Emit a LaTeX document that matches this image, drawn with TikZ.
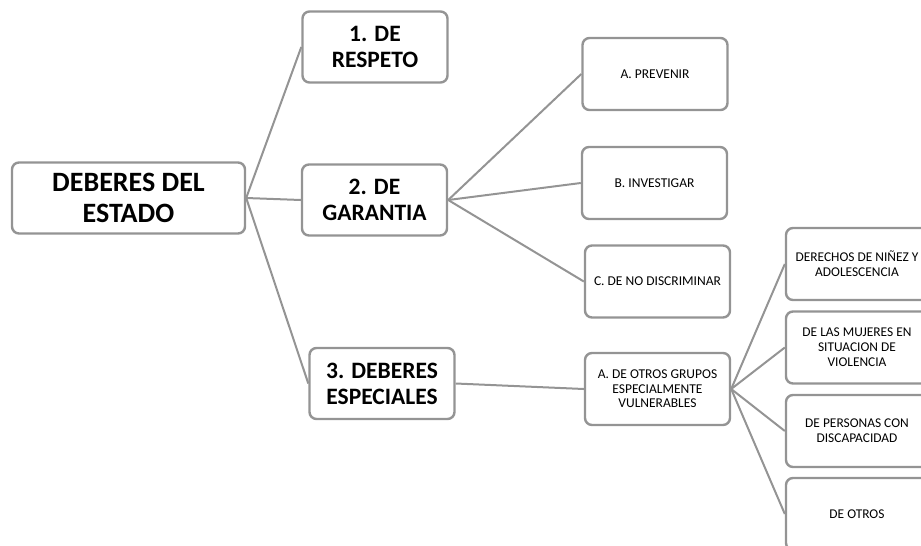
\documentclass[tikz,border=0pt]{standalone}
\usepackage{fontspec}
\setmainfont{Carlito}
\usetikzlibrary{positioning}
\definecolor{boxgray}{RGB}{148,148,148}
\tikzset{
    box/.style = {draw=boxgray, line width=2.4pt, rounded corners=7pt, fill=white, align=center, inner sep=2pt},
    top box/.style = {box, minimum width=233pt, minimum height=71pt, font=\bfseries\fontsize{28}{31}\selectfont},
    mid box/.style = {box, minimum width=145pt, minimum height=71pt, font=\bfseries\fontsize{23.5}{26}\selectfont},
    low box/.style = {box, minimum width=145pt, minimum height=72pt, font=\fontsize{13.5}{14.5}\selectfont},
    leaf box/.style = {box, minimum width=142pt, minimum height=72pt, font=\fontsize{13.4}{15}\selectfont},
    branch/.style = {draw=boxgray, line width=2pt},
}

\begin{document}
\begin{tikzpicture}[x=1pt, y=-1pt]
            \path[use as bounding box, clip] (0, 0) rectangle (921, 546);

            \node[top box] (E) at (128.5, 198) {DEBERES DEL\\ESTADO};

            \node[mid box] (res) at (375, 47) {1. DE\\RESPETO};
            \node[mid box] (gar) at (374.5, 200) {2. DE\\GARANTIA};
            \node[mid box] (esp) at (382, 383.5) {3. DEBERES\\ESPECIALES};

            \node[low box] (prev) at (655, 74) {A. PREVENIR};
            \node[low box] (inv) at (654.5, 183) {B. INVESTIGAR};
            \node[low box] (disc) at (657.5, 281.5) {C. DE NO DISCRIMINAR};
            \node[low box] (grp) at (657.5, 389) {A. DE OTROS GRUPOS\\ESPECIALMENTE\\VULNERABLES};

            \node[leaf box] (nin) at (857, 264) {DERECHOS DE NIÑEZ Y\\ADOLESCENCIA};
            \node[leaf box] (muj) at (857, 347.5) {DE LAS MUJERES EN\\SITUACION DE\\VIOLENCIA};
            \node[leaf box] (dis) at (857, 431) {DE PERSONAS CON\\DISCAPACIDAD};
            \node[leaf box] (otr) at (857, 514) {DE OTROS};

            \draw[branch] (E.east) -- (res.west);
            \draw[branch] (E.east) -- (gar.west);
            \draw[branch] (E.east) -- (esp.west);
            \draw[branch] (gar.east) -- (prev.west);
            \draw[branch] (gar.east) -- (inv.west);
            \draw[branch] (gar.east) -- (disc.west);
            \draw[branch] (esp.east) -- (grp.west);
            \draw[branch] (grp.east) -- (nin.west);
            \draw[branch] (grp.east) -- (muj.west);
            \draw[branch] (grp.east) -- (dis.west);
            \draw[branch] (grp.east) -- (otr.west);
        \end{tikzpicture}
\end{document}
